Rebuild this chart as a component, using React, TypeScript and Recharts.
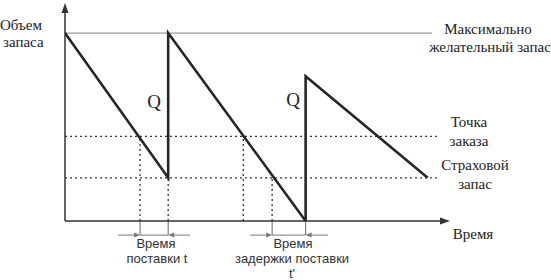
import React from 'react';
import { LineChart, Line, XAxis, YAxis, ReferenceLine } from 'recharts';

// sawtooth of stock level over time (stock in % of max desired stock)
const timePoints = [0, 26.8, 26.8, 62.5, 62.5, 94.2];
const stockLevels = [100, 23, 100, 0, 77, 23];

// levels
const MAX_STOCK = 100;
const REORDER_POINT = 45;
const SAFETY_STOCK = 23;
const levelLineEnd = 96.6;
const maxLineEnd = 95.3;

// moments where the stock hits the reorder point / safety stock
const reorderTimes = [19.5, 46.3];
const safetyTimes = [26.8, 53.8];

// lead time brackets under the axis: [from, tickA, tickB, to]
const leadTime = [13.8, 19.5, 26.8, 32.5];
const delayTime = [48.1, 53.8, 62.5, 68.3];
const BRACKET_Y = -7.5;

const sawData = timePoints.map((t, i) => ({ t, s: stockLevels[i] }));

const serif = "'Liberation Serif', 'Times New Roman', serif";
const sans = "'Liberation Sans', Arial, sans-serif";

// line with a filled arrowhead at (x2, y2)
const arrowShape = (color: string, width: number, len: number, half: number) => (props: any) => {
  const { x1, y1, x2, y2 } = props;
  const dx = x2 - x1;
  const dy = y2 - y1;
  const d = Math.sqrt(dx * dx + dy * dy) || 1;
  const ux = dx / d;
  const uy = dy / d;
  const bx = x2 - ux * len;
  const by = y2 - uy * len;
  const pts = `${x2},${y2} ${bx - uy * half},${by + ux * half} ${bx + uy * half},${by - ux * half}`;
  return (
    <g>
      <line x1={x1} y1={y1} x2={bx} y2={by} stroke={color} strokeWidth={width} />
      <polygon points={pts} fill={color} />
    </g>
  );
};

const axisArrow = arrowShape('#333', 1.5, 10, 3.5);
const dimArrow = arrowShape('#777', 1, 6, 2.5);

const Bracket = (b: number[], key: string) => [
  <ReferenceLine key={`${key}-l`} segment={[{ x: b[0], y: BRACKET_Y }, { x: b[1], y: BRACKET_Y }]} shape={dimArrow} ifOverflow="visible" />,
  <ReferenceLine key={`${key}-r`} segment={[{ x: b[3], y: BRACKET_Y }, { x: b[2], y: BRACKET_Y }]} shape={dimArrow} ifOverflow="visible" />,
  <ReferenceLine key={`${key}-m`} segment={[{ x: b[1], y: BRACKET_Y }, { x: b[2], y: BRACKET_Y }]} stroke="#777" strokeWidth={1} ifOverflow="visible" />,
  <ReferenceLine key={`${key}-ta`} segment={[{ x: b[1], y: 0 }, { x: b[1], y: BRACKET_Y }]} stroke="#666" strokeWidth={1} ifOverflow="visible" />,
  <ReferenceLine key={`${key}-tb`} segment={[{ x: b[2], y: 0 }, { x: b[2], y: BRACKET_Y }]} stroke="#666" strokeWidth={1} ifOverflow="visible" />,
];

const serifStyle = { fontFamily: serif, fontSize: 15, fill: '#222' };
const sansStyle = { fontFamily: sans, fontSize: 13, fill: '#333' };

export default function App() {
  return (
    <div style={{ position: 'absolute', left: 0, top: 0, width: 551, height: 280, background: '#fff' }}>
      <LineChart width={551} height={280} margin={{ top: 3, right: 101, bottom: 59, left: 65 }}>
        <XAxis type="number" dataKey="t" domain={[0, 100]} hide allowDataOverflow />
        <YAxis type="number" domain={[0, 116]} hide allowDataOverflow />

        <ReferenceLine segment={[{ x: 0, y: MAX_STOCK }, { x: maxLineEnd, y: MAX_STOCK }]} stroke="#9a9a9a" strokeWidth={1.2} ifOverflow="visible" />
        <ReferenceLine segment={[{ x: 0, y: REORDER_POINT }, { x: levelLineEnd, y: REORDER_POINT }]} stroke="#333" strokeWidth={1.3} strokeDasharray="2 3" ifOverflow="visible" />
        <ReferenceLine segment={[{ x: 0, y: SAFETY_STOCK }, { x: levelLineEnd, y: SAFETY_STOCK }]} stroke="#333" strokeWidth={1.3} strokeDasharray="2 3" ifOverflow="visible" />
        {reorderTimes.map((t) => (
          <ReferenceLine key={`ro-${t}`} segment={[{ x: t, y: 0 }, { x: t, y: REORDER_POINT }]} stroke="#333" strokeWidth={1.3} strokeDasharray="2 3" ifOverflow="visible" />
        ))}
        {safetyTimes.map((t) => (
          <ReferenceLine key={`ss-${t}`} segment={[{ x: t, y: 0 }, { x: t, y: SAFETY_STOCK }]} stroke="#333" strokeWidth={1.3} strokeDasharray="2 3" ifOverflow="visible" />
        ))}

        {Bracket(leadTime, 'lead')}
        {Bracket(delayTime, 'delay')}

        {/* axes with arrowheads */}
        <ReferenceLine segment={[{ x: 0, y: 0 }, { x: 0, y: 116 }]} shape={axisArrow} ifOverflow="visible" />
        <ReferenceLine segment={[{ x: 0, y: 0 }, { x: 100, y: 0 }]} shape={axisArrow} ifOverflow="visible" />

        <Line
          data={sawData}
          dataKey="s"
          type="linear"
          stroke="#262626"
          strokeWidth={2.6}
          dot={false}
          activeDot={false}
          isAnimationActive={false}
        />
      </LineChart>

      <svg width={551} height={280} style={{ position: 'absolute', left: 0, top: 0, pointerEvents: 'none' }}>
        <g style={serifStyle}>
          <text x={0} y={30}>Объем</text>
          <text x={3} y={47}>запаса</text>
          <text x={488} y={34} textAnchor="middle">Максимально</text>
          <text x={490} y={52} textAnchor="middle">желательный запас</text>
          <text x={469} y={127} textAnchor="middle">Точка</text>
          <text x={469} y={146} textAnchor="middle">заказа</text>
          <text x={475} y={170} textAnchor="middle">Страховой</text>
          <text x={475} y={189} textAnchor="middle">запас</text>
          <text x={473} y={239} textAnchor="middle">Время</text>
          <text x={154} y={108} textAnchor="middle" style={{ fontSize: 19 }}>Q</text>
          <text x={293} y={106} textAnchor="middle" style={{ fontSize: 19 }}>Q</text>
        </g>
        <g style={sansStyle}>
          <text x={156} y={248} textAnchor="middle">Время</text>
          <text x={157} y={263} textAnchor="middle">поставки t</text>
          <text x={293} y={248} textAnchor="middle">Время</text>
          <text x={292} y={263} textAnchor="middle">задержки поставки</text>
          <text x={292} y={278} textAnchor="middle">t'</text>
        </g>
      </svg>
    </div>
  );
}
